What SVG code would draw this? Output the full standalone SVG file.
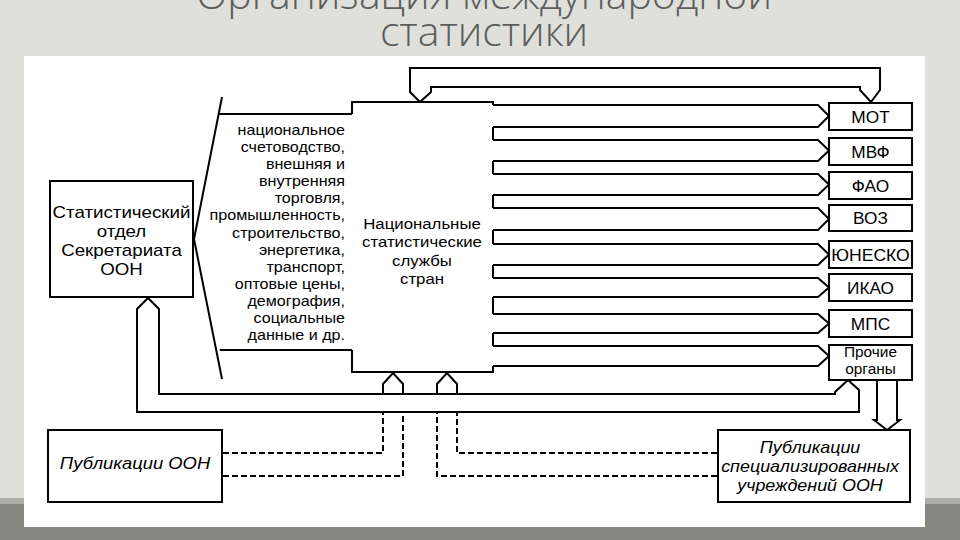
<svg xmlns="http://www.w3.org/2000/svg" width="960" height="540" viewBox="0 0 960 540">
<style>
.ln{fill:none;stroke:#000;stroke-width:2;stroke-linejoin:miter}
.bx{fill:#fff;stroke:#000;stroke-width:2}
.dash{fill:none;stroke:#000;stroke-width:2;stroke-dasharray:6 3}
.t{font-family:"Liberation Sans",Arial,sans-serif;fill:#000}
.ttl{font-family:"Open Sans","DejaVu Sans",sans-serif;font-size:41px;font-weight:300;fill:#5d5d5d}
</style>
<rect x="0" y="0" width="960" height="540" fill="#dfe0db"/>
<rect x="0" y="498" width="960" height="6" fill="#adaea8"/>
<rect x="0" y="504" width="960" height="36" fill="#86877f"/>
<rect x="24" y="56" width="901" height="471" fill="#fff"/>
<g id="title">
<text class="ttl" x="484" y="9" text-anchor="middle">Организация международной</text>
<text class="ttl" x="484" y="46" text-anchor="middle">статистики</text>
</g>
<g id="node-stat-dept">
<rect class="bx" x="50" y="181" width="143" height="116"/>
<g transform="translate(121.5 0) scale(1.17 1)">
<text class="t" font-size="16" text-anchor="middle"><tspan x="0" y="218">Статистический</tspan><tspan x="0" y="237">отдел</tspan><tspan x="0" y="256">Секретариата</tspan><tspan x="0" y="275">ООН</tspan></text>
</g>
</g>
<g id="node-fields">
<path class="ln" d="M222,97 L194,239 L222,379"/>
<path class="ln" d="M218.6,114 H352 M219.8,350 H352"/>
<g transform="translate(345 0) scale(1.15 1)">
<text class="t" font-size="14" text-anchor="end"><tspan x="0" y="135">национальное</tspan><tspan x="0" y="152.1">счетоводство,</tspan><tspan x="0" y="169.2">внешняя и</tspan><tspan x="0" y="186.3">внутренняя</tspan><tspan x="0" y="203.4">торговля,</tspan><tspan x="0" y="220.5">промышленность,</tspan><tspan x="0" y="237.6">строительство,</tspan><tspan x="0" y="254.7">энергетика,</tspan><tspan x="0" y="271.8">транспорт,</tspan><tspan x="0" y="288.9">оптовые цены,</tspan><tspan x="0" y="306">демография,</tspan><tspan x="0" y="323.1">социальные</tspan><tspan x="0" y="340.2">данные и др.</tspan></text>
</g>
</g>
<g id="node-national">
<path class="ln" d="M352,114 V102 H493 V105 M493,127 V140 M493,161 V174 M493,195 V208 M493,230 V244 M493,265 V278 M493,297 V314 M493,333 V346 M493,366 V372 H352 V350"/>
<g transform="translate(422 0) scale(1.12 1)">
<text class="t" font-size="15" text-anchor="middle"><tspan x="0" y="229">Национальные</tspan><tspan x="0" y="247.5">статистические</tspan><tspan x="0" y="266">службы</tspan><tspan x="0" y="284.5">стран</tspan></text>
</g>
</g>
<g id="node-mot"><rect class="bx" x="829" y="103" width="83" height="27"/><text class="t" font-size="16" text-anchor="middle" transform="translate(870.5 123) scale(1.08 1)">МОТ</text></g>
<g id="node-mvf"><rect class="bx" x="829" y="138" width="83" height="27"/><text class="t" font-size="16" text-anchor="middle" transform="translate(870.5 158) scale(1.08 1)">МВФ</text></g>
<g id="node-fao"><rect class="bx" x="829" y="172" width="83" height="27"/><text class="t" font-size="16" text-anchor="middle" transform="translate(870.5 192) scale(1.08 1)">ФАО</text></g>
<g id="node-voz"><rect class="bx" x="829" y="205" width="83" height="26"/><text class="t" font-size="16" text-anchor="middle" transform="translate(870.5 224) scale(1.08 1)">ВОЗ</text></g>
<g id="node-unesco"><rect class="bx" x="829" y="241" width="83" height="27"/><text class="t" font-size="16" text-anchor="middle" transform="translate(870.5 261) scale(1.1 1)">ЮНЕСКО</text></g>
<g id="node-ikao"><rect class="bx" x="829" y="274" width="83" height="27"/><text class="t" font-size="16" text-anchor="middle" transform="translate(870.5 294) scale(1.08 1)">ИКАО</text></g>
<g id="node-mps"><rect class="bx" x="829" y="310" width="83" height="27"/><text class="t" font-size="16" text-anchor="middle" transform="translate(870.5 330) scale(1.08 1)">МПС</text></g>
<g id="node-other"><rect class="bx" x="829" y="345" width="83" height="35"/><g transform="translate(870.5 0) scale(1.1 1)"><text class="t" font-size="14" text-anchor="middle"><tspan x="0" y="357.5">Прочие</tspan><tspan x="0" y="374">органы</tspan></text></g></g>
<g id="node-pub-un"><rect class="bx" x="48" y="430" width="174" height="72"/><text class="t" font-size="16" font-style="italic" text-anchor="middle" transform="translate(135 469) scale(1.15 1)">Публикации ООН</text></g>
<g id="node-pub-spec"><rect class="bx" x="718" y="430" width="192" height="72"/><g transform="translate(810 0) scale(1.12 1)"><text class="t" font-size="16" font-style="italic" text-anchor="middle"><tspan x="0" y="453">Публикации</tspan><tspan x="0" y="472">специализированных</tspan><tspan x="0" y="491">учреждений ООН</tspan></text></g></g>
<g id="connectors">
<path class="ln" d="M493,105 H818 L829,116 L818,127 H493"/>
<path class="ln" d="M493,140 H818 L829,150.5 L818,161 H493"/>
<path class="ln" d="M493,174 H818 L829,184.5 L818,195 H493"/>
<path class="ln" d="M493,208 H818 L829,219 L818,230 H493"/>
<path class="ln" d="M493,244 H818 L829,254.5 L818,265 H493"/>
<path class="ln" d="M493,278 H818 L829,287.5 L818,297 H493"/>
<path class="ln" d="M493,314 H818 L829,323.5 L818,333 H493"/>
<path class="ln" d="M493,346 H818 L829,356 L818,366 H493"/>
<path class="ln" d="M420,102 L410,92 V68 H880 V90 L871,102"/>
<path class="ln" d="M420,102 L431,92 V87 H860 V90 L871,102"/>
<path class="ln" d="M148,298 L137,309 V412 H859 V390 L848,380"/>
<path class="ln" d="M148,298 L159,309 V394 H835 V392 L848,380"/>
<path class="ln" d="M383,394 V384 L393,373 L403,384 V394"/>
<path class="ln" d="M437,394 V384 L447,373 L457,384 V394"/>
<path class="ln" d="M877,381 V420 H874 L887,430 L900,420 H897 V381"/>
<path class="dash" d="M223,453 H383 V413"/>
<path class="dash" d="M223,476 H403 V413"/>
<path class="dash" d="M717,476 H437 V413"/>
<path class="dash" d="M717,453 H457 V413"/>
</g>
</svg>
